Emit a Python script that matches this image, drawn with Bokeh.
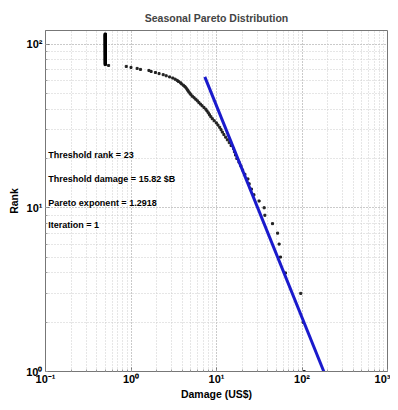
from bokeh.plotting import figure
from bokeh.models import Label, Range1d, LogTicker
from bokeh.embed import file_html
from bokeh.resources import INLINE

# Damage (US$, billions) for ranks 1..74
rank_main = list(range(1, 75))
damage_main = [106, 103, 96.7, 64, 56, 54.0, 51.8, 45.2, 36.8, 36.1,
               31.5, 27.4, 25.6, 24.1, 23.3, 21.5, 20.2, 19.3, 18.3, 17.3,
               16.7, 16.2, 15.82, 14.8, 14.1, 13.4, 12.8, 12.2, 11.7, 11.3,
               10.9, 10.4, 9.95, 9.40, 8.93, 8.58, 8.28, 8.02, 7.74, 7.50,
               7.13, 6.78, 6.48, 6.22, 5.97, 5.72, 5.47, 5.22, 5.03, 4.89,
               4.75, 4.63, 4.52, 4.40, 4.26, 4.10, 3.92, 3.80, 3.60, 3.47,
               3.28, 3.08, 2.83, 2.58, 2.38, 2.13, 1.93, 1.72, 1.62, 1.29,
               1.18, 1.00, 0.88, 0.547]
# Ranks 75..115 all at damage 0.5
rank_low = list(range(75, 116))
damage_low = [0.5] * len(rank_low)

# Pareto fit line endpoints
fit_damage = [7.3, 180]
fit_rank = [63, 1]

x_ticks = [0.1, 1, 10, 100, 1000]
x_tick_labels = ["10\u207b\u00b9", "10\u2070", "10\u00b9", "10\u00b2", "10\u00b3"]
y_ticks = [1, 10, 100]
y_tick_labels = ["10\u2070", "10\u00b9", "10\u00b2"]

annot = ["Threshold rank =  23", "Threshold damage =  15.82 $B",
         "Pareto exponent = 1.2918", "Iteration = 1"]
annot_y = [20.9, 15.0, 10.7, 7.9]

FONT = "Liberation Sans"

p = figure(width=390, height=402, x_axis_type="log", y_axis_type="log",
           output_backend="svg", toolbar_location=None,
           x_range=Range1d(0.1, 1000), y_range=Range1d(1, 121),
           min_border_left=45, min_border_right=3, min_border_top=30,
           min_border_bottom=28)
p.title.text = "Seasonal Pareto Distribution"
p.title.align = "center"
p.title.text_font = FONT
p.title.text_font_size = "10.5px"
p.title.text_font_style = "bold"
p.title.standoff = 14

p.xaxis.ticker = LogTicker(desired_num_ticks=5, num_minor_ticks=10)
p.yaxis.ticker = LogTicker(desired_num_ticks=3, num_minor_ticks=10)
p.xaxis.major_label_overrides = dict(zip(x_ticks, x_tick_labels))
p.yaxis.major_label_overrides = dict(zip(y_ticks, y_tick_labels))

for ax in (p.xaxis, p.yaxis):
    ax.major_label_text_font = FONT
    ax.major_label_text_font_size = "11px"
    ax.major_label_text_font_style = "bold"
    ax.major_label_text_color = "black"
    ax.axis_label_text_font = FONT
    ax.axis_label_text_font_size = "10.5px"
    ax.axis_label_text_font_style = "bold"
    ax.axis_label_text_color = "black"
    ax.major_tick_in = 4
    ax.major_tick_out = 0
    ax.minor_tick_in = 2
    ax.minor_tick_out = 0
    ax.axis_line_color = "#777777"
    ax.major_tick_line_color = "#777777"
    ax.minor_tick_line_color = "#999999"
    ax.major_label_standoff = 1
    ax.axis_label_standoff = 0

p.yaxis.major_label_standoff = 3
p.yaxis.axis_label_standoff = 3
p.xaxis.axis_label = "Damage (US$)"
p.yaxis.axis_label = "Rank"

p.grid.grid_line_color = "#bbbbbb"
p.grid.grid_line_dash = "1 2"
p.grid.minor_grid_line_color = "#cccccc"
p.grid.minor_grid_line_dash = "1 2"
p.outline_line_color = "#777777"

p.scatter(damage_low, rank_low, size=2.2, marker="square", color="black")
p.scatter(damage_main, rank_main, size=2.0, marker="square", color="#222222")
p.line(fit_damage, fit_rank, line_color="#1a1acc", line_width=3)

for t, yv in zip(annot, annot_y):
    p.add_layout(Label(x=0.108, y=yv, text=t, text_font=FONT,
                       text_font_size="9px", text_font_style="bold",
                       text_baseline="middle", text_color="black"))

open("out.html", "w").write(file_html(p, INLINE))
